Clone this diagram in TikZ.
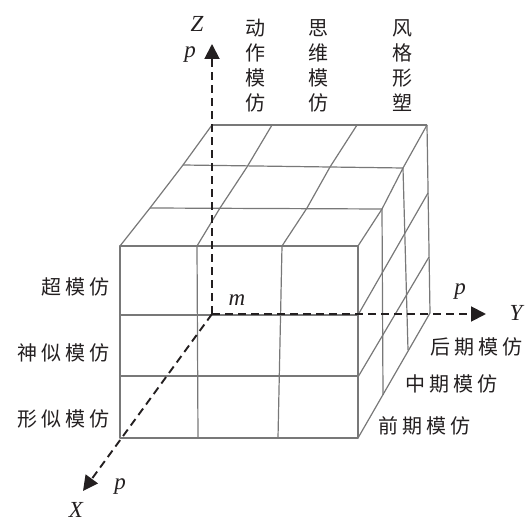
\documentclass[tikz,border=0pt]{standalone}
\usepackage{fontspec}
\setmainfont{Liberation Serif}
\newfontfamily\cjk[LetterSpace=20]{Noto Sans CJK SC}
\newfontfamily\cjkv{Noto Sans CJK SC}
\usetikzlibrary{arrows.meta}
\definecolor{gridc}{RGB}{120,120,120}
\definecolor{axisc}{RGB}{35,31,32}
\begin{document}
\begin{tikzpicture}[x=1pt,y=-1pt,
  gridline/.style={draw=gridc,line width=1.2pt,line join=round},
  axis/.style={draw=axisc,line width=1.9pt,dash pattern=on 8pt off 5pt,-{Triangle[length=15pt,width=15pt]}},
  lab/.style={font=\fontsize{23}{23}\selectfont\itshape,text=axisc,inner sep=0pt},
  rowlab/.style={font=\cjk\fontsize{20}{20}\selectfont,text=axisc,inner sep=0pt},
  collab/.style={font=\cjkv\fontsize{20}{25}\selectfont,text=axisc,inner sep=0pt,align=center}]
\useasboundingbox (0,0) rectangle (530,521);
% front face
\draw[gridline] (120,246) rectangle (358,438);
\draw[gridline] (120,315) -- (358,315);
\draw[gridline] (120,376) -- (358,376);
\draw[gridline] (197,246) -- (198,438);
\draw[gridline] (282,246) -- (278,438);
% top face
\draw[gridline] (150,208) -- (382,209);
\draw[gridline] (183,165) -- (403,168);
\draw[gridline] (212,125) -- (427,125);
\draw[gridline] (120,246) -- (150,208) -- (183,165) -- (212,125);
\draw[gridline] (197,246) -- (220,208) -- (247,167) -- (272,125);
\draw[gridline] (282,246) -- (307,208) -- (330,167) -- (357,125);
\draw[gridline] (358,246) -- (382,209) -- (403,168) -- (427,125);
% right side
\draw[gridline] (382,209) -- (383,395);
\draw[gridline] (403,168) -- (408,350);
\draw[gridline] (427,125) -- (430,313);
\draw[gridline] (358,315) -- (428,193);
\draw[gridline] (358,377) -- (429,257);
\draw[gridline] (358,438) -- (430,313);
% axes
\coordinate (O) at (212,314);
\coordinate (Zt) at (212,44);
\coordinate (Yt) at (486,314);
\coordinate (Xt) at (83,491);
\draw[axis] (O) -- (Zt);
\draw[axis] (O) -- (Yt);
\draw[axis] (O) -- (Xt);
% axis labels
\node[lab] (zl) at (197,24) {Z};
\node[lab] (zp) at (190,55) {p};
\node[lab] (ml) at (237,300) {m};
\node[lab] (yp) at (460,292) {p};
\node[lab] (yl) at (516,313) {Y};
\node[lab] (xp) at (120,487) {p};
\node[lab] (xl) at (76,510) {X};
% column labels
\node[collab] (c1) at (255,66) {动\\作\\模\\仿};
\node[collab] (c2) at (318,66) {思\\维\\模\\仿};
\node[collab] (c3) at (402,66) {风\\格\\形\\塑};
% row labels
\node[rowlab,anchor=east] (r1) at (110,287) {超模仿};
\node[rowlab,anchor=east] (r2) at (110,353) {神似模仿};
\node[rowlab,anchor=east] (r3) at (110,419) {形似模仿};
% depth labels
\node[rowlab,anchor=west] (d1) at (430,347) {后期模仿};
\node[rowlab,anchor=west] (d2) at (405,384) {中期模仿};
\node[rowlab,anchor=west] (d3) at (378,426) {前期模仿};
\end{tikzpicture}
\end{document}
